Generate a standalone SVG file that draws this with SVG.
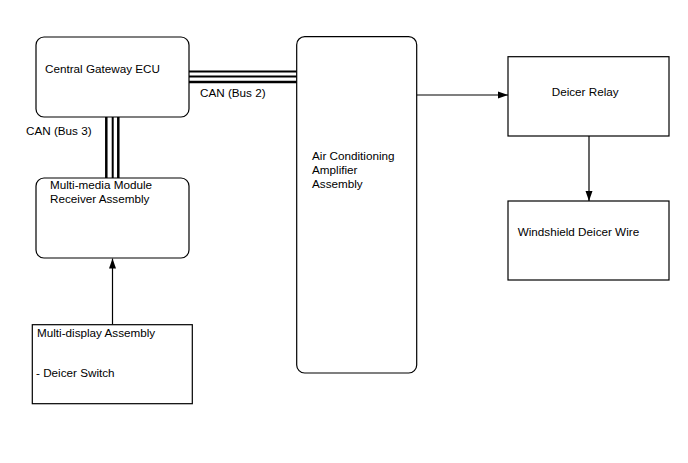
<svg xmlns="http://www.w3.org/2000/svg" width="688" height="463" viewBox="0 0 688 463">
<defs>
<style>
.box{fill:#fff;stroke:#000;stroke-width:1.2}
.t{font-family:"Liberation Sans",Arial,sans-serif;font-size:11.7px;fill:#000}
.ln{stroke:#000;stroke-width:1.2;fill:none}
.bus{stroke:#000;fill:none}
</style>
<marker id="ah" viewBox="0 0 10 10" refX="10" refY="5" markerWidth="10" markerHeight="10" markerUnits="userSpaceOnUse" orient="auto">
<path d="M0,1.5 L10,5 L0,8.5 Z" fill="#000"/>
</marker>
</defs>
<rect width="688" height="463" fill="#fff"/>
<g id="connectors">
<line class="bus" x1="189" y1="71.5" x2="297" y2="71.5" stroke-width="2"/>
<line class="bus" x1="189" y1="76.5" x2="297" y2="76.5" stroke-width="1.8"/>
<line class="bus" x1="189" y1="82" x2="297" y2="82" stroke-width="2.4"/>
<line class="bus" x1="106.3" y1="117" x2="106.3" y2="178" stroke-width="2.5"/>
<line class="bus" x1="112.7" y1="117" x2="112.7" y2="178" stroke-width="2"/>
<line class="bus" x1="118.3" y1="117" x2="118.3" y2="178" stroke-width="2.5"/>
<line class="ln" x1="112.5" y1="324.5" x2="112.5" y2="258.5" marker-end="url(#ah)"/>
<line class="ln" x1="417" y1="95" x2="508" y2="95" marker-end="url(#ah)"/>
<line class="ln" x1="589" y1="136" x2="589" y2="201" marker-end="url(#ah)"/>
<text class="t" x="200" y="96.5">CAN (Bus 2)</text>
<text class="t" x="26" y="135">CAN (Bus 3)</text>
</g>
<g id="central-gateway">
<rect class="box" x="36" y="37" width="153" height="80" rx="8"/>
<text class="t" x="45" y="73">Central Gateway ECU</text>
</g>
<g id="multimedia">
<rect class="box" x="36" y="178" width="153" height="80" rx="8"/>
<text class="t" x="50" y="189">Multi-media Module</text>
<text class="t" x="50" y="203">Receiver Assembly</text>
</g>
<g id="multidisplay">
<rect class="box" x="32.3" y="324.7" width="160" height="79"/>
<text class="t" x="37" y="336.5">Multi-display Assembly</text>
<text class="t" x="36" y="376.5">- Deicer Switch</text>
</g>
<g id="ac-amplifier">
<rect class="box" x="296.7" y="36.7" width="120" height="336.3" rx="8"/>
<text class="t" x="312" y="160">Air Conditioning</text>
<text class="t" x="312" y="174">Amplifier</text>
<text class="t" x="312" y="188">Assembly</text>
</g>
<g id="deicer-relay">
<rect class="box" x="508" y="56.7" width="161" height="79.3"/>
<text class="t" x="551.7" y="95.5">Deicer Relay</text>
</g>
<g id="windshield">
<rect class="box" x="508" y="201" width="161" height="79"/>
<text class="t" x="517.7" y="235.5">Windshield Deicer Wire</text>
</g>
</svg>
